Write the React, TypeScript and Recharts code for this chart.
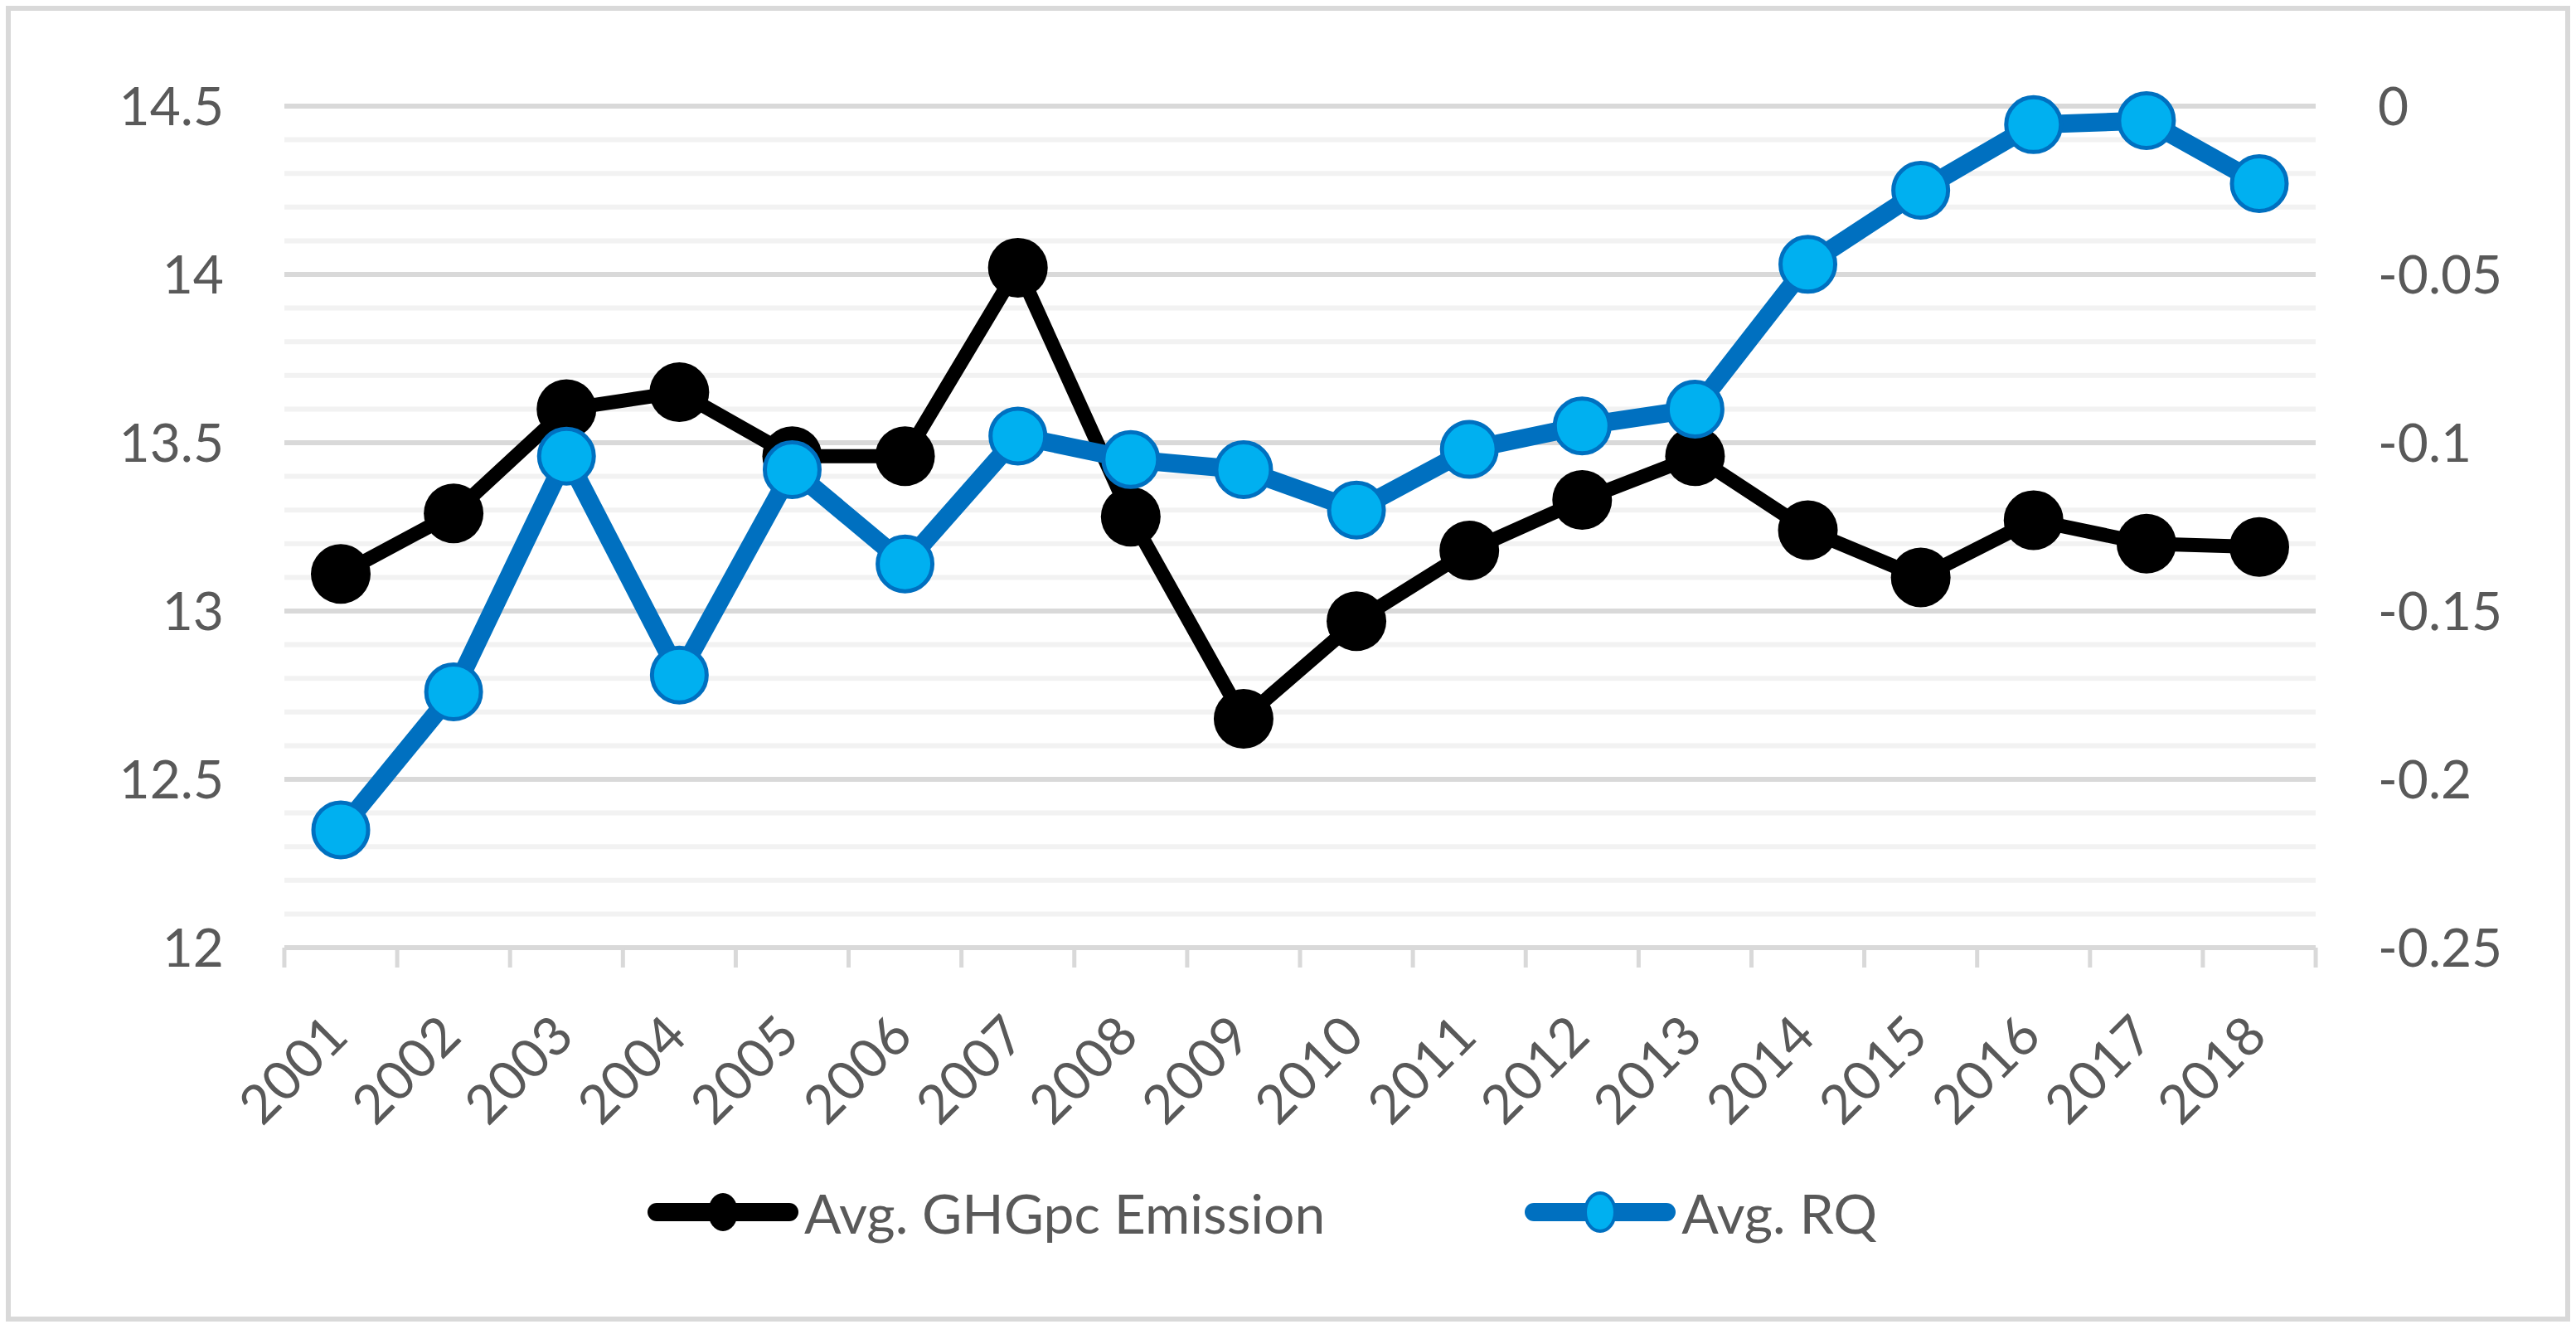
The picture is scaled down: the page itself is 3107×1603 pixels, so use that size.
import React from "react";
import {
  LineChart,
  Line,
  XAxis,
  YAxis,
  CartesianGrid,
  Legend,
} from "recharts";

const years = [
  "2001", "2002", "2003", "2004", "2005", "2006", "2007", "2008", "2009",
  "2010", "2011", "2012", "2013", "2014", "2015", "2016", "2017", "2018",
];
const ghgEmission = [
  13.11, 13.29, 13.6, 13.65, 13.46, 13.46, 14.02, 13.28, 12.68,
  12.97, 13.18, 13.33, 13.46, 13.24, 13.1, 13.27, 13.2, 13.19,
];
const avgRQ = [
  -0.215, -0.174, -0.104, -0.169, -0.108, -0.136, -0.098, -0.105, -0.108,
  -0.12, -0.102, -0.095, -0.09, -0.047, -0.025, -0.0055, -0.0043, -0.023,
];
const leftTicks = [12, 12.5, 13, 13.5, 14, 14.5];
const rightTicks = [-0.25, -0.2, -0.15, -0.1, -0.05, 0];
const minorTicks = [
  12.1, 12.2, 12.3, 12.4, 12.6, 12.7, 12.8, 12.9, 13.1, 13.2, 13.3, 13.4,
  13.6, 13.7, 13.8, 13.9, 14.1, 14.2, 14.3, 14.4,
];

const data = years.map((y, i) => ({ year: y, ghg: ghgEmission[i], rq: avgRQ[i] }));

const FONT = "Lato, 'Open Sans', sans-serif";
const TEXT = "#595959";
const GRID = "#d9d9d9";
const MINOR = "#f2f2f2";

// category label plus Excel-style tick marks on the category boundaries
function YearTick(props: any) {
  const { x, y, payload, index, width, visibleTicksCount } = props;
  const half = width / visibleTicksCount / 2;
  const last = index === visibleTicksCount - 1;
  return (
    <g>
      <line x1={x - half} x2={x - half} y1={y} y2={y + 24} stroke={GRID} strokeWidth={5} />
      {last && (
        <line x1={x + half} x2={x + half} y1={y} y2={y + 24} stroke={GRID} strokeWidth={5} />
      )}
      <g transform={`translate(${x + 12},${y + 110})`}>
        <text
          transform="rotate(-45)"
          textAnchor="end"
          fill={TEXT}
          fontSize={65}
          fontFamily={FONT}
        >
          {payload.value}
        </text>
      </g>
    </g>
  );
}

function LegendIcon({ line, fill, stroke }: { line: string; fill: string; stroke?: string }) {
  return (
    <svg width={184} height={60} style={{ display: "block" }}>
      <line x1={12} y1={30} x2={172} y2={30} stroke={line} strokeWidth={22} strokeLinecap="round" />
      <ellipse cx={92} cy={30} rx={18} ry={23} fill={fill} stroke={stroke ?? "none"} strokeWidth={4} />
    </svg>
  );
}

function ChartLegend() {
  return (
    <div
      style={{
        display: "flex",
        alignItems: "center",
        height: 80,
        fontFamily: FONT,
        fontSize: 66,
        color: TEXT,
      }}
    >
      <LegendIcon line="#000000" fill="#000000" />
      <span style={{ marginLeft: 6 }}>Avg. GHGpc Emission</span>
      <span style={{ width: 240 }} />
      <LegendIcon line="#0070c0" fill="#00b0f0" stroke="#0070c0" />
      <span style={{ marginLeft: 6 }}>Avg. RQ</span>
    </div>
  );
}

export default function App() {
  return (
    <div style={{ position: "relative", width: 3107, height: 1603, background: "#fff" }}>
      <style>{"body{margin:0}"}</style>
      <div
        style={{
          position: "absolute",
          left: 7,
          top: 7,
          width: 3093,
          height: 1587,
          border: `6px solid ${GRID}`,
          boxSizing: "border-box",
          pointerEvents: "none",
        }}
      />
      <LineChart
        width={3107}
        height={1603}
        data={data}
        margin={{ top: 128, right: 114, left: 143, bottom: 20 }}
      >
        <CartesianGrid
          yAxisId="left"
          vertical={false}
          horizontalValues={minorTicks}
          stroke={MINOR}
          strokeWidth={6}
        />
        <CartesianGrid
          yAxisId="left"
          vertical={false}
          horizontalValues={leftTicks.slice(1)}
          stroke={GRID}
          strokeWidth={6}
        />
        <XAxis
          dataKey="year"
          interval={0}
          height={360}
          padding={{ left: 68, right: 68 }}
          tickLine={false}
          tickSize={0}
          tickMargin={0}
          tick={<YearTick />}
          axisLine={{ stroke: GRID, strokeWidth: 6 }}
        />
        <YAxis
          yAxisId="left"
          domain={[12, 14.5]}
          ticks={leftTicks}
          width={200}
          axisLine={false}
          tickLine={false}
          tickSize={0}
          tickMargin={73}
          tick={{ fill: TEXT, fontSize: 64, fontFamily: FONT }}
          tickFormatter={(v) => String(v)}
        />
        <YAxis
          yAxisId="right"
          orientation="right"
          domain={[-0.25, 0]}
          ticks={rightTicks}
          width={200}
          axisLine={false}
          tickLine={false}
          tickSize={0}
          tickMargin={75}
          tick={{ fill: TEXT, fontSize: 64, fontFamily: FONT, textAnchor: "start" }}
          tickFormatter={(v) => String(v)}
        />
        <Legend
          verticalAlign="bottom"
          content={() => <ChartLegend />}
          wrapperStyle={{ top: 1422, left: 780, width: "auto", bottom: "auto" }}
        />
        <Line
          yAxisId="left"
          dataKey="ghg"
          name="Avg. GHGpc Emission"
          stroke="#000000"
          strokeWidth={17}
          dot={{ r: 36, fill: "#000000", stroke: "none" }}
          activeDot={false}
          isAnimationActive={false}
        />
        <Line
          yAxisId="right"
          dataKey="rq"
          name="Avg. RQ"
          stroke="#0070c0"
          strokeWidth={22}
          dot={{ r: 33, fill: "#00b0f0", stroke: "#0070c0", strokeWidth: 5 }}
          activeDot={false}
          isAnimationActive={false}
        />
      </LineChart>
    </div>
  );
}
